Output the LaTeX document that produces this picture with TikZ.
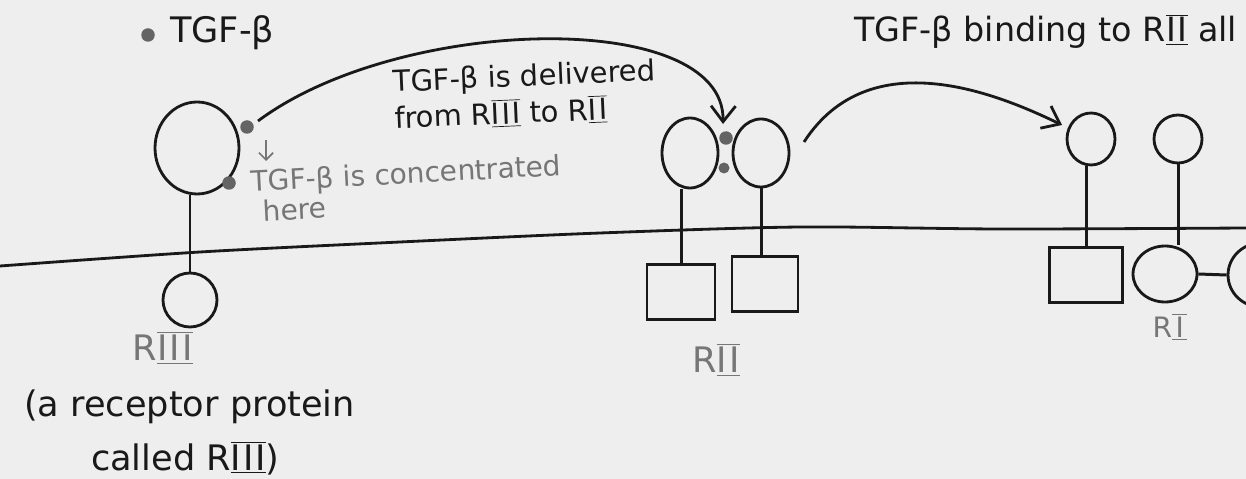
\documentclass[tikz,border=0pt]{standalone}
\usepackage{fontspec}
\setmainfont{DejaVu Sans}
\usetikzlibrary{arrows.meta,shapes.geometric}
\definecolor{paper}{RGB}{238,238,238}
\definecolor{ink}{RGB}{25,25,25}
\definecolor{pencil}{RGB}{118,118,118}
\definecolor{dotc}{RGB}{100,100,100}
\newcommand{\RN}[1]{$\overline{\underline{\hbox{#1}}}$}
\begin{document}
\begin{tikzpicture}[x=0.02cm,y=-0.02cm,line width=1.6pt,
  head/.style={ellipse,draw=ink,line width=1.6pt,inner sep=0pt},
  boxr/.style={rectangle,draw=ink,line width=1.6pt,inner sep=0pt},
  ligand/.style={circle,fill=dotc,inner sep=0pt,minimum size=0.27cm},
  note/.style={text=pencil},
  inktext/.style={text=ink},
  arr/.style={draw=ink,line width=1.6pt,-{Straight Barb[length=9pt,width=14pt]}},
  stem/.style={draw=ink,line width=1.7pt}]
\useasboundingbox (0,0) rectangle (1246,479);
\fill[paper] (0,0) rectangle (1246,479);
\clip (0,0) rectangle (1246,479);

% membrane
\draw[ink] plot[smooth] coordinates {(0,266) (200,252) (400,242) (600,233) (800,227) (1000,229) (1246,228)};

% legend
\node[ligand] (d0) at (148,35) {};
\node[inktext,anchor=base west,font=\fontsize{20}{24}\selectfont] (t0) at (163,43) {TGF-β};

% RIII
\node[head,minimum width=1.68cm,minimum height=1.84cm] (h3) at (197,148) {};
\node[head,minimum width=1.08cm,minimum height=1.08cm] (f3) at (190,300) {};
\draw[stem] (h3.south -| f3.north) -- (f3.north);
\node[ligand] (d3a) at (247,127) {};
\node[ligand] (d3b) at (229,183) {};
\coordinate (g1) at (266,140);
\coordinate (g2) at (266,161);
\draw[pencil,line width=1pt,-{Straight Barb[length=4pt,width=8pt]}] (g1) -- (g2);
\node[note,anchor=base west,align=left,rotate=3,font=\fontsize{16}{17}\selectfont] (conc) at (246,222) {TGF-β is concentrated\\\hspace{6pt}here};
\node[note,font=\fontsize{20}{24}\selectfont] (l3) at (163,348) {R\RN{I\kern1.5pt I\kern1.5pt I}};
\node[inktext,anchor=base west,align=left,font=\fontsize{20}{30.6}\selectfont] (desc) at (17,470) {(a receptor protein\\\hspace{38pt}called R\RN{I\kern1pt I\kern1pt I})};

% arrow 1
\coordinate (a1s) at (258,121);
\coordinate (a1e) at (723,124);
\draw[arr] (a1s) .. controls (400,15) and (725,8) .. (a1e);
\node[inktext,anchor=base west,align=left,rotate=2.5,font=\fontsize{16.5}{21}\selectfont] (deliv) at (388,129) {TGF-β is delivered\\from R\RN{I\kern1pt I\kern1pt I} to R\RN{I\kern1pt I}};

% RII pair
\node[head,minimum width=1.12cm,minimum height=1.40cm] (h2a) at (690,153) {};
\node[head,minimum width=1.12cm,minimum height=1.36cm] (h2b) at (761,153) {};
\node[boxr,minimum width=1.36cm,minimum height=1.10cm] (b2a) at (681,292) {};
\node[boxr,minimum width=1.32cm,minimum height=1.10cm] (b2b) at (765,284) {};
\draw[stem] (h2a.south -| b2a.north) -- (b2a.north);
\draw[stem] (h2b.south) -- (h2b.south |- b2b.north);
\node[ligand] (d2a) at (726,138) {};
\node[ligand,minimum size=0.22cm] (d2b) at (724,168) {};
\node[note,font=\fontsize{20}{24}\selectfont] (l2) at (716,360) {R\RN{I\kern1.5pt I}};

% arrow 2
\coordinate (a2s) at (804,142);
\coordinate (a2e) at (1062,125);
\draw[arr] (a2s) .. controls (870,40) and (1000,95) .. (a2e);

% right side
\node[inktext,anchor=base west,font=\fontsize{19}{22}\selectfont] (t4) at (847,42) {TGF-β binding to R\RN{I\kern1pt I} all};
\node[head,minimum width=0.96cm,minimum height=1.04cm] (h2c) at (1091,139) {};
\node[boxr,minimum width=1.46cm,minimum height=1.10cm] (b2c) at (1086,275) {};
\draw[stem] (h2c.south -| b2c.north) -- (b2c.north);
\node[head,minimum width=0.96cm,minimum height=0.96cm] (h1) at (1178,139) {};
\node[head,minimum width=1.28cm,minimum height=1.12cm] (f1) at (1165,274) {};
\draw[stem] (h1.south) -- (h1.south |- f1.north);
\node[head,minimum width=1.32cm,minimum height=1.28cm] (f1b) at (1261,275) {};
\draw[stem] (f1.east) -- (f1b.west);
\node[note,font=\fontsize{16}{20}\selectfont] (l1) at (1170,327) {R\RN{\kern2pt I\kern2pt}};
\end{tikzpicture}
\end{document}
